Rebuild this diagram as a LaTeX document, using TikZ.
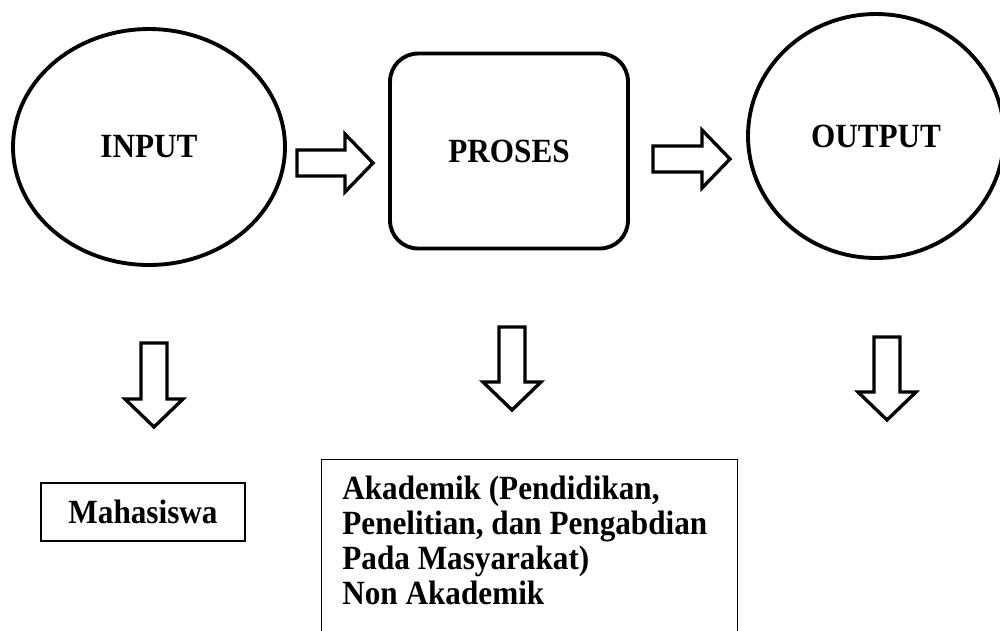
\documentclass[tikz,border=0pt]{standalone}
\usepackage{fontspec}
\setmainfont{Liberation Serif}[FakeStretch=0.92]
\usetikzlibrary{shapes.geometric}
\tikzset{
	blocktext/.style={font=\fontsize{19.3}{19.84}\selectfont\bfseries},
	bigshape/.style={draw,line width=2.2pt,inner sep=0pt,blocktext},
	thinbox/.style={draw,line width=0.8pt,inner sep=0pt},
	pics/blockarrow/.style={code={
		\draw[line width=1.9pt] (0,-13)--(#1-28,-13)--(#1-28,-29)--(#1,0)--(#1-28,29)--(#1-28,13)--(0,13)--cycle;
	}}
}
\begin{document}
\begin{tikzpicture}[x=0.02cm,y=-0.02cm]
		\useasboundingbox (0,0) rectangle (1000,630);
		\node[bigshape,ellipse,minimum width=5.44cm,minimum height=4.72cm] (input) at (149,147) {INPUT};
		\node[bigshape,rounded corners=0.56cm,minimum width=4.76cm,minimum height=3.9cm] (proses) at (509,151) {PROSES};
		\node[bigshape,ellipse,minimum width=5.12cm,minimum height=4.88cm] (output) at (876,136) {OUTPUT};
		\pic (arrowa) at (297,163) {blockarrow=76};
		\pic (arrowb) at (653,159) {blockarrow=77};
		\pic[rotate=-90] (arrowc) at (154,343) {blockarrow=84};
		\pic[rotate=-90] (arrowd) at (512,327) {blockarrow=83};
		\pic[rotate=-90] (arrowe) at (887,337) {blockarrow=83};
		\node[thinbox,blocktext,minimum width=4.08cm,minimum height=1.16cm] (mhs) at (143,512) {Mahasiswa};
		\node[thinbox,minimum width=8.32cm,minimum height=3.7cm,anchor=north west] (akad) at (321,459) {};
		\node[blocktext,align=left,anchor=north west,inner sep=0pt] (akadtext) at (342,476) {Akademik (Pendidikan,\\Penelitian, dan Pengabdian\\Pada Masyarakat)\\Non Akademik};
	\end{tikzpicture}
\end{document}
